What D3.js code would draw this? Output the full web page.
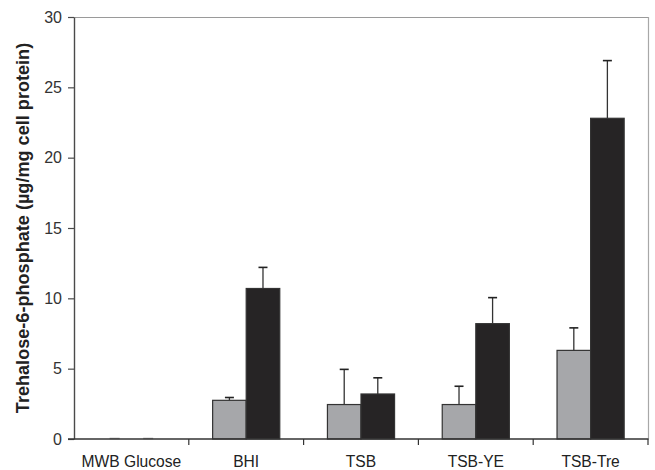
<!DOCTYPE html>
<html>
<head>
<meta charset="utf-8">
<script src="https://cdn.jsdelivr.net/npm/d3@7"></script>
<style>
  html, body { margin: 0; padding: 0; background: #fff; }
  svg { display: block; font-family: "Liberation Sans", Arial, sans-serif; }
</style>
</head>
<body>
<svg id="chart" width="655" height="470"></svg>
<script>
// Growth media and trehalose-6-phosphate levels for the two conditions
const categories = ["MWB Glucose", "BHI", "TSB", "TSB-YE", "TSB-Tre"];
const seriesNames = ["Condition A", "Condition B"];
const valuesA = [0, 2.75, 2.45, 2.45, 6.3];
const valuesB = [0, 10.7, 3.2, 8.2, 22.8];
const errorsA = [0, 0.2, 2.5, 1.3, 1.6];
const errorsB = [0, 1.5, 1.15, 1.85, 4.1];
const yTicks = [0, 5, 10, 15, 20, 25, 30];
const colors = ["#a6a7aa", "#262425"];

const svg = d3.select("#chart");
const margin = { left: 74, right: 7, top: 17, bottom: 31 };
const W = 655, H = 470;
const x0 = margin.left, x1 = W - margin.right;
const yTop = margin.top, yBot = H - margin.bottom;

const x = d3.scaleBand().domain(categories).range([x0, x1]).paddingInner(0).paddingOuter(0);
const xs = d3.scaleBand().domain(seriesNames).range([0, x.bandwidth()]).paddingInner(0).paddingOuter(0.71);
const y = d3.scaleLinear().domain([0, 30]).range([yBot, yTop]);

// Frame: light top and right edges
svg.append("line").attr("x1", x0).attr("x2", x1).attr("y1", yTop + 0.5).attr("y2", yTop + 0.5)
  .attr("stroke", "#9a9a9a").attr("stroke-width", 1.2);
svg.append("line").attr("x1", x1 + 0.5).attr("x2", x1 + 0.5).attr("y1", yTop).attr("y2", yBot)
  .attr("stroke", "#a8a8a8").attr("stroke-width", 1.2);

// Bars
const rows = categories.map((c, i) => ({
  cat: c,
  items: [
    { s: seriesNames[0], v: valuesA[i], e: errorsA[i], color: colors[0] },
    { s: seriesNames[1], v: valuesB[i], e: errorsB[i], color: colors[1] }
  ]
}));

const groups = svg.append("g").selectAll("g").data(rows).join("g")
  .attr("transform", d => `translate(${x(d.cat)},0)`);

groups.selectAll("rect").data(d => d.items).join("rect")
  .attr("x", d => xs(d.s))
  .attr("width", xs.bandwidth())
  .attr("y", d => y(d.v))
  .attr("height", d => yBot - y(d.v))
  .attr("fill", d => d.color)
  .attr("stroke", "#333")
  .attr("stroke-width", 1.2);

// Zero-valued bars show as short grey marks on the baseline
groups.selectAll("line.zero").data(d => d.items.filter(it => it.v === 0)).join("line")
  .attr("class", "zero")
  .attr("x1", d => xs(d.s) + xs.bandwidth() / 2 - 5)
  .attr("x2", d => xs(d.s) + xs.bandwidth() / 2 + 5)
  .attr("y1", yBot - 0.5).attr("y2", yBot - 0.5)
  .attr("stroke", "#999").attr("stroke-width", 1.5);

// Upper error bars
const errs = groups.selectAll("g.err").data(d => d.items.filter(it => it.e > 0)).join("g").attr("class", "err");
errs.append("line")
  .attr("x1", d => xs(d.s) + xs.bandwidth() / 2)
  .attr("x2", d => xs(d.s) + xs.bandwidth() / 2)
  .attr("y1", d => y(d.v))
  .attr("y2", d => y(d.v + d.e))
  .attr("stroke", "#333").attr("stroke-width", 1.3);
errs.append("line")
  .attr("x1", d => xs(d.s) + xs.bandwidth() / 2 - 4.5)
  .attr("x2", d => xs(d.s) + xs.bandwidth() / 2 + 4.5)
  .attr("y1", d => y(d.v + d.e))
  .attr("y2", d => y(d.v + d.e))
  .attr("stroke", "#222").attr("stroke-width", 1.6);

// Y axis
const yAxis = svg.append("g").attr("transform", `translate(${x0},0)`)
  .call(d3.axisLeft(y).tickValues(yTicks).tickSize(6).tickSizeOuter(0).tickPadding(6));
yAxis.select(".domain").attr("stroke", "#4a4a4a").attr("stroke-width", 1.4);
yAxis.selectAll(".tick line").attr("stroke", "#4a4a4a").attr("stroke-width", 1.2);
yAxis.selectAll(".tick text").attr("font-size", 16).attr("fill", "#333")
  .attr("font-family", "Liberation Sans, Arial, sans-serif");

// X axis with ticks at category boundaries
const xAxisG = svg.append("g").attr("transform", `translate(0,${yBot})`);
xAxisG.append("line").attr("x1", x0 - 6).attr("x2", x1 + 0.5).attr("y1", 0).attr("y2", 0)
  .attr("stroke", "#333").attr("stroke-width", 1.3);
xAxisG.selectAll("line.bt").data(categories.slice(1).concat(["end"])).join("line")
  .attr("class", "bt")
  .attr("x1", (d, i) => x0 + x.bandwidth() * (i + 1))
  .attr("x2", (d, i) => x0 + x.bandwidth() * (i + 1))
  .attr("y1", 0).attr("y2", 6)
  .attr("stroke", "#333").attr("stroke-width", 1.2);
xAxisG.selectAll("text").data(categories).join("text")
  .attr("x", d => x(d) + x.bandwidth() / 2)
  .attr("y", 28)
  .attr("text-anchor", "middle")
  .attr("font-size", 15.6)
  .attr("fill", "#222")
  .text(d => d);

// Y axis title
svg.append("text")
  .attr("transform", `translate(29,${(yTop + yBot) / 2}) rotate(-90)`)
  .attr("text-anchor", "middle")
  .attr("font-size", 18.1)
  .attr("font-weight", "bold")
  .attr("fill", "#222")
  .text("Trehalose-6-phosphate (µg/mg cell protein)");
</script>
</body>
</html>
